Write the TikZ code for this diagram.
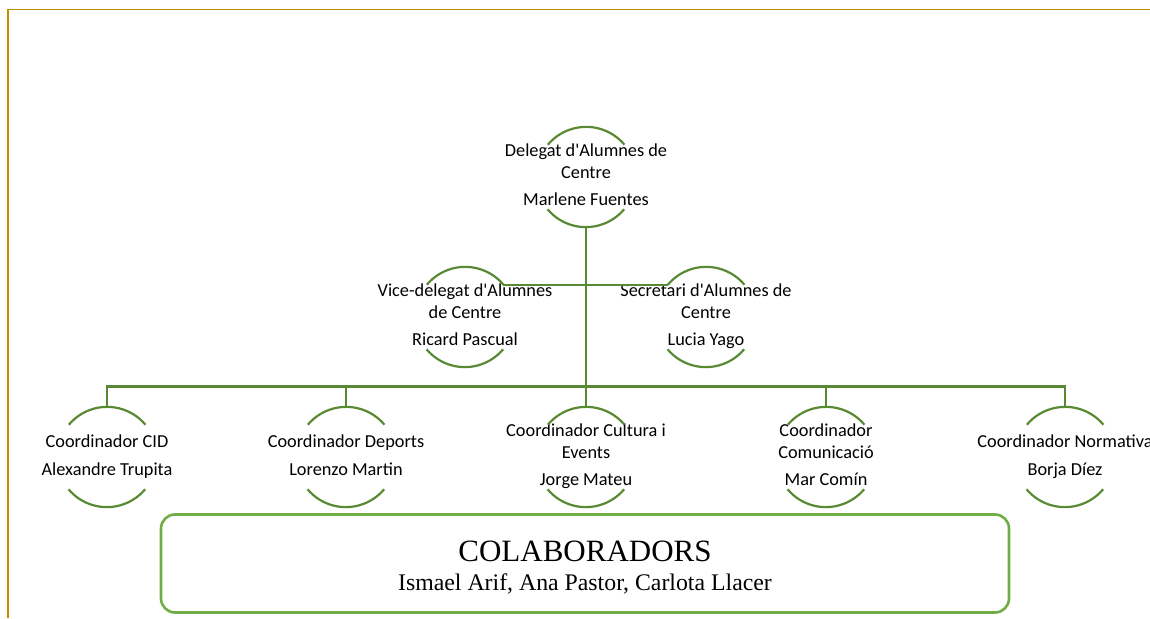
\documentclass[tikz,border=0pt]{standalone}
\usepackage{fontspec}
\setmainfont{Carlito}[Ligatures=TeXOff]
\newfontfamily\boxserif{Liberation Serif}
\definecolor{linegreen}{HTML}{588A34}
\definecolor{boxgreen}{HTML}{70AD47}
\definecolor{pagegold}{HTML}{BF9000}
% role title lines, then the person's name a little further down
\newcommand\orgtext[2]{\makebox[0pt]{\begin{tabular}{@{}c@{}}#1\\[6pt]#2\end{tabular}}}
\begin{document}
\begin{tikzpicture}[x=1pt,y=1pt,
  ring/.style={circle,minimum size=100pt,inner sep=0pt,
    font=\fontsize{18.3}{21.5}\selectfont},
  arcline/.style={draw=linegreen,line width=2.2pt},
  link/.style={draw=linegreen,line width=2.2pt},
  collab/.style={draw=boxgreen,line width=2.6pt,rounded corners=14pt,
    minimum width=848pt,minimum height=98pt,align=center,inner sep=0pt}]
\useasboundingbox (0,0) rectangle (1150,618);
% page frame
\draw[pagegold,line width=1pt] (7,608.5) -- (1150,608.5);
\draw[pagegold,line width=2pt] (7.7,0) -- (7.7,609);

% hierarchy
\node[ring] (top) at (586,441) {\orgtext{Delegat d'Alumnes de\\Centre}{Marlene Fuentes}};
\node[ring] (vice) at (465,301) {\orgtext{Vice-delegat d'Alumnes\\de Centre}{Ricard Pascual}};
\node[ring] (secr) at (706,301) {\orgtext{Secretari d'Alumnes de\\Centre}{Lucia Yago}};
\node[ring] (cid) at (107,161) {\orgtext{Coordinador CID}{Alexandre Trupita}};
\node[ring] (dep) at (346,161) {\orgtext{Coordinador Deports}{Lorenzo Martin}};
\node[ring] (cult) at (586,161) {\orgtext{Coordinador Cultura i\\Events}{Jorge Mateu}};
\node[ring] (com) at (826,161) {\orgtext{Coordinador\\Comunicació}{Mar Comín}};
\node[ring] (norm) at (1065,161) {\orgtext{Coordinador Normativa}{Borja Díez}};

\foreach \n in {top,vice,secr,cid,dep,cult,com,norm}
  \draw[arcline] (\n.40) arc[start angle=40,end angle=140,radius=50pt]
                 (\n.220) arc[start angle=220,end angle=320,radius=50pt];

\coordinate (bus) at (586,231.5);
\draw[link] (top.south) -- (bus);
\draw[link] (vice.40) -- (secr.140);
\draw[link] (cid.north) |- (bus) -| (norm.north);
\foreach \n in {dep,cult,com}
  \draw[link] (\n.north) -- (\n.north |- bus);

% collaborators
\node[collab] (colab) at (585,54.5)
  {{\boxserif\fontsize{31}{31}\selectfont\rule{0pt}{28pt}COLABORADORS}\\[11pt]
   {\boxserif\fontsize{23.8}{26}\selectfont Ismael Arif, Ana Pastor, Carlota Llacer}};
\end{tikzpicture}
\end{document}
